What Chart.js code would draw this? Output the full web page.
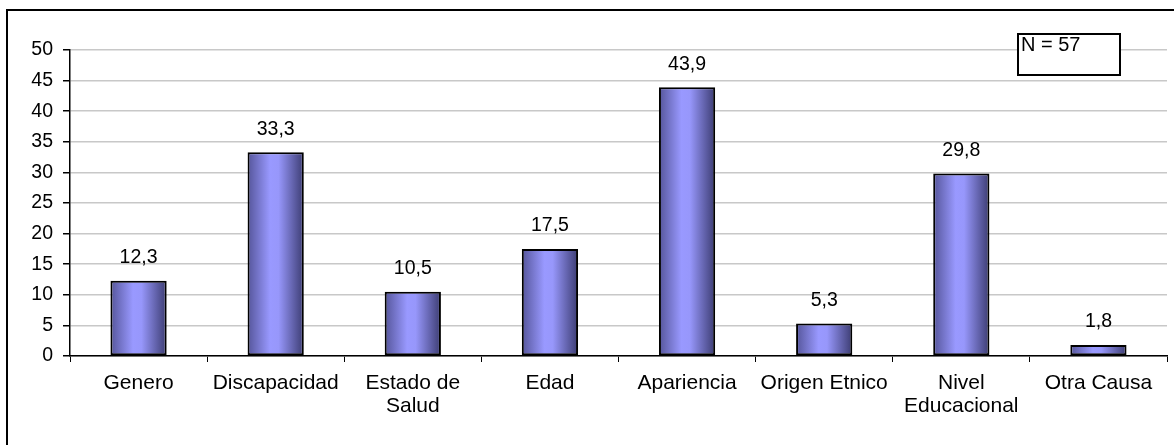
<!DOCTYPE html>
<html>
<head>
<meta charset="utf-8">
<script src="https://cdn.jsdelivr.net/npm/chart.js@4"></script>
<style>
  html, body { margin: 0; padding: 0; background: #fff; }
  #wrap { width: 1174px; height: 447px; }
</style>
</head>
<body>
<div id="wrap"><canvas id="chart" width="1174" height="447"></canvas></div>
<script>
const categories = ['Genero', 'Discapacidad', ['Estado de', 'Salud'], 'Edad', 'Apariencia', 'Origen Etnico', ['Nivel', 'Educacional'], 'Otra Causa'];
const values = [12.3, 33.3, 10.5, 17.5, 43.9, 5.3, 29.8, 1.8];
const yTicks = [0, 5, 10, 15, 20, 25, 30, 35, 40, 45, 50];
const noteText = 'N = 57';

const FONT = '"Liberation Sans", Arial, sans-serif';
const BAR_FRAC = 0.41;

function barFill(ctx) {
    const chart = ctx.chart;
    const xs = chart.scales.x;
    if (!chart.chartArea || !xs) return '#9999ff';
    const cx = xs.getPixelForValue(ctx.dataIndex);
    const w = (xs.width / categories.length) * BAR_FRAC;
    const g = chart.ctx.createLinearGradient(cx - w / 2, 0, cx + w / 2, 0);
    g.addColorStop(0, '#55559a');
    g.addColorStop(0.4, '#9999ff');
    g.addColorStop(0.55, '#9797fb');
    g.addColorStop(1, '#3c3c72');
    return g;
}

const frame = {
    id: 'frame',
    beforeDraw(chart) {
        const c = chart.ctx;
        c.save();
        c.fillStyle = '#fff';
        c.fillRect(0, 0, chart.width, chart.height);
        c.strokeStyle = '#000';
        c.lineWidth = 2;
        c.beginPath();
        c.moveTo(7, 445);
        c.lineTo(7, 10);
        c.lineTo(1174, 10);
        c.stroke();
        c.restore();
    },
    afterDraw(chart) {
        const c = chart.ctx;
        c.save();
        c.strokeStyle = '#000';
        c.lineWidth = 2;
        c.fillStyle = '#fff';
        c.fillRect(1017, 33, 104, 42);
        c.strokeRect(1018, 34, 102, 41);
        c.fillStyle = '#000';
        c.font = '20px ' + FONT;
        c.textBaseline = 'top';
        c.fillText(noteText, 1021, 35);
        c.restore();
    }
};

const valueLabels = {
    id: 'valueLabels',
    afterDatasetsDraw(chart) {
        const c = chart.ctx;
        const meta = chart.getDatasetMeta(0);
        c.save();
        c.fillStyle = '#000';
        c.font = '19.5px ' + FONT;
        c.textAlign = 'center';
        c.textBaseline = 'middle';
        meta.data.forEach((bar, i) => {
            c.fillText(values[i].toFixed(1).replace('.', ','), bar.x, bar.y - 23);
        });
        c.restore();
    }
};

new Chart(document.getElementById('chart'), {
    type: 'bar',
    data: {
        labels: categories,
        datasets: [{
            data: values,
            backgroundColor: barFill,
            borderColor: '#000',
            borderWidth: 2,
            borderSkipped: false,
            categoryPercentage: 1,
            barPercentage: BAR_FRAC
        }]
    },
    options: {
        responsive: false,
        animation: false,
        devicePixelRatio: 1,
        layout: { padding: { top: 50, right: 7, left: 0, bottom: 0 } },
        plugins: {
            legend: { display: false },
            tooltip: { enabled: false }
        },
        scales: {
            x: {
                afterFit(s) { s.height = 91; },
                grid: { offset: true, drawOnChartArea: false, tickLength: 6, tickColor: '#000', lineWidth: 1 },
                border: { color: '#000', width: 1.5 },
                ticks: { color: '#000', font: { family: FONT, size: 21, lineHeight: 1.12 }, padding: 9, maxRotation: 0, autoSkip: false }
            },
            y: {
                min: 0,
                max: 50,
                afterFit(s) { s.width = 70; },
                afterBuildTicks(s) { s.ticks = yTicks.map(v => ({ value: v })); },
                grid: { color: '#c8c8c8', tickColor: '#000', tickLength: 7, lineWidth: 1.5 },
                border: { color: '#000', width: 1.5 },
                ticks: { color: '#000', font: { family: FONT, size: 19.5 }, padding: 10 }
            }
        }
    },
    plugins: [frame, valueLabels]
});
</script>
</body>
</html>
